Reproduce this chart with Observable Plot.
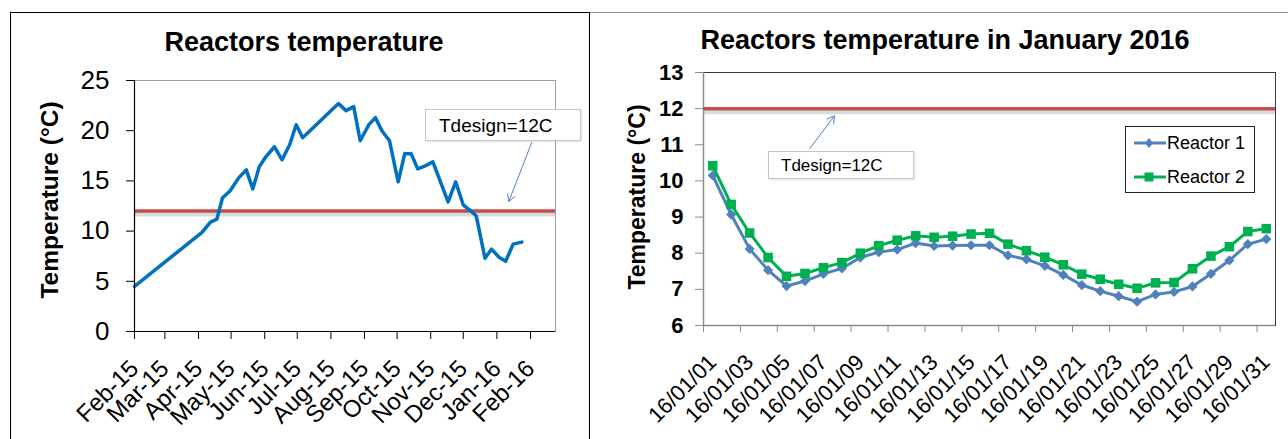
<!DOCTYPE html>
<html><head><meta charset="utf-8">
<script src="https://cdn.jsdelivr.net/npm/d3@7"></script>
<script src="https://cdn.jsdelivr.net/npm/@observablehq/plot@0.6"></script>
<style>
html,body{margin:0;padding:0;background:#fff;}
#wrap{position:relative;width:1288px;height:439px;overflow:hidden;font-family:"Liberation Sans",Arial,sans-serif;color:#000;}
.abs{position:absolute;}
.t{position:absolute;line-height:1;white-space:nowrap;}
.title{font-weight:bold;font-size:27px;transform:translateX(-50%);}
.ylab{font-weight:bold;transform:translate(-50%,-50%) rotate(-90deg);}
.box{position:absolute;background:#fff;border:1px solid #c6c6c6;box-shadow:1px 1px 2px rgba(0,0,0,0.12);display:flex;align-items:center;box-sizing:border-box;line-height:1;white-space:nowrap;}
svg{overflow:visible;}
</style></head><body>
<div id="wrap">
  <div class="abs" style="left:10px;top:12px;width:578px;height:440px;border:1.5px solid #000;border-bottom:none;"></div>
  <div class="abs" style="left:590px;top:12px;width:698px;height:0;border-top:1.5px solid #8c8c8c;"></div>
  <div id="left" class="abs" style="left:0;top:0"></div>
  <div id="right" class="abs" style="left:590px;top:0"></div>
  <div class="t title" style="left:304px;top:29px;">Reactors temperature</div>
  <div class="t title" style="left:945px;top:27px;">Reactors temperature in January 2016</div>
  <div class="t ylab" style="left:50px;top:200px;font-size:24.5px;">Temperature (°C)</div>
  <div class="t ylab" style="left:637px;top:197px;font-size:23px;">Temperature (°C)</div>
  <div class="box" style="left:425px;top:109px;width:156px;height:32px;padding-left:13px;font-size:19px;">Tdesign=12C</div>
  <div class="box" style="left:768px;top:151px;width:146px;height:28px;padding-left:12px;font-size:17px;">Tdesign=12C</div>
  <div id="legend" class="abs" style="left:1125px;top:126px;width:130px;height:67px;border:1px solid #222;box-sizing:border-box;background:#fff;"></div>
</div>
<script>
// ---- Left chart data ----
const leftDates = ["2015-02-01","2015-04-04","2015-04-12","2015-04-18","2015-04-23","2015-04-30","2015-05-08","2015-05-15","2015-05-21","2015-05-27","2015-06-02","2015-06-10","2015-06-17","2015-06-24","2015-06-30","2015-07-06","2015-08-08","2015-08-15","2015-08-22","2015-08-28","2015-09-05","2015-09-11","2015-09-17","2015-09-24","2015-10-02","2015-10-08","2015-10-14","2015-10-20","2015-10-27","2015-11-03","2015-11-17","2015-11-24","2015-12-01","2015-12-07","2015-12-13","2015-12-21","2015-12-27","2016-01-03","2016-01-09","2016-01-16","2016-01-24"];
const leftTemps = [4.5,9.85,10.9,11.2,13.3,14.0,15.3,16.1,14.2,16.4,17.4,18.4,17.1,18.6,20.6,19.3,22.7,22.0,22.4,19.0,20.6,21.3,20.0,19.0,14.9,17.7,17.7,16.2,16.5,16.9,12.9,14.9,12.6,12.1,11.5,7.3,8.2,7.4,7.0,8.7,8.9];
const leftYTicks = [0,5,10,15,20,25];
const leftXStart = "2015-02-01", leftXEnd = "2016-02-24", leftLastTick = "2016-02-02";
const designTemp = 12;
// annotation arrows (data coordinates)
const leftArrow = [{x1:"2016-02-02", y1:18.8, x2:"2016-01-12", y2:12.95}];

// ---- Right chart data ----
const dayLabels = ["16/01/01","16/01/02","16/01/03","16/01/04","16/01/05","16/01/06","16/01/07","16/01/08","16/01/09","16/01/10","16/01/11","16/01/12","16/01/13","16/01/14","16/01/15","16/01/16","16/01/17","16/01/18","16/01/19","16/01/20","16/01/21","16/01/22","16/01/23","16/01/24","16/01/25","16/01/26","16/01/27","16/01/28","16/01/29","16/01/30","16/01/31"];
const reactor1 = [10.15,9.07,8.12,7.53,7.09,7.23,7.43,7.58,7.88,8.03,8.1,8.28,8.2,8.21,8.22,8.22,7.94,7.83,7.65,7.4,7.12,6.95,6.81,6.66,6.86,6.93,7.08,7.43,7.8,8.25,8.39];
const reactor2 = [10.42,9.35,8.56,7.88,7.36,7.44,7.6,7.74,8.0,8.21,8.36,8.48,8.44,8.47,8.53,8.55,8.25,8.07,7.89,7.68,7.42,7.28,7.14,7.03,7.18,7.19,7.57,7.92,8.18,8.6,8.68];
const rightYTicks = [6,7,8,9,10,11,12,13];
const rightArrow = [{x1:6.27, y1:10.9, x2:7.6, y2:11.8}];

const font = "Liberation Sans, Arial, sans-serif";
const red = "#c0504d", blue1 = "#0070c0", blueR = "#4f81bd", greenR = "#00b050";

// ---- Left plot ----
const leftData = leftDates.map((d,i)=>({date:new Date(d), temp:leftTemps[i]}));
const monthTicks = d3.utcMonth.range(new Date(leftXStart), new Date(leftLastTick));
const la = leftArrow.map(a=>({x1:new Date(a.x1), y1:a.y1, x2:new Date(a.x2), y2:a.y2}));
const leftPlot = Plot.plot({
  width:590, height:439,
  marginLeft:134, marginRight:35, marginTop:80, marginBottom:108,
  x:{type:"utc", domain:[new Date(leftXStart), new Date(leftXEnd)]},
  y:{domain:[0,25]},
  style:{fontFamily:font, color:"#000", background:"transparent"},
  marks:[
    Plot.frame({stroke:"#a0a0a0"}),
    Plot.ruleY([designTemp], {dy:3, stroke:"#b0b0b0", strokeWidth:5, strokeOpacity:0.45}),
    Plot.ruleY([designTemp], {stroke:red, strokeWidth:3.5}),
    Plot.line(leftData, {x:"date", y:"temp", stroke:blue1, strokeWidth:3.5, strokeLinejoin:"round"}),
    Plot.ruleX([new Date(leftXStart)], {stroke:"#000", strokeWidth:1.2}),
    Plot.ruleY([0], {stroke:"#000", strokeWidth:1.2}),
    Plot.axisY({ticks:leftYTicks, tickSize:8, tickPadding:17, fontSize:26, label:null, stroke:"#000"}),
    Plot.axisX({ticks:monthTicks, tickFormat:d3.utcFormat("%b-%y"), tickSize:8, tickPadding:25, tickRotate:-45, fontSize:24, label:null, stroke:"#000"}),
    Plot.arrow(la, {x1:"x1", y1:"y1", x2:"x2", y2:"y2", stroke:blueR, strokeWidth:1, headLength:12, bend:0})
  ]
});
document.getElementById("left").appendChild(leftPlot);

// ---- Right plot ----
const r1 = reactor1.map((v,i)=>({day:i+1, v}));
const r2 = reactor2.map((v,i)=>({day:i+1, v}));
const boundaryTicks = dayLabels.map((d,i)=>i+0.5).filter((d,i)=>i%2===0);
const labelTicks = dayLabels.map((d,i)=>i+1).filter((d,i)=>i%2===0);
const rightPlot = Plot.plot({
  width:698, height:439,
  marginLeft:113, marginRight:13, marginTop:72, marginBottom:114,
  x:{domain:[0.5, dayLabels.length+0.5]},
  y:{domain:[6,13]},
  style:{fontFamily:font, color:"#000", background:"transparent"},
  marks:[
    Plot.frame({stroke:"#3a3a3a"}),
    Plot.ruleX([0.5], {stroke:"#8c8c8c", strokeWidth:1.5}),
    Plot.ruleY([6], {stroke:"#8c8c8c", strokeWidth:1.5}),
    Plot.ruleY([designTemp], {dy:3, stroke:"#b0b0b0", strokeWidth:5, strokeOpacity:0.45}),
    Plot.ruleY([designTemp], {stroke:red, strokeWidth:3.5}),
    Plot.line(r1, {x:"day", y:"v", stroke:blueR, strokeWidth:3}),
    Plot.dot(r1, {x:"day", y:"v", symbol:"diamond2", r:4.6, fill:blueR, stroke:null}),
    Plot.line(r2, {x:"day", y:"v", stroke:greenR, strokeWidth:3}),
    Plot.dot(r2, {x:"day", y:"v", symbol:"square", r:5.4, fill:greenR, stroke:null}),
    Plot.axisY({ticks:rightYTicks, tickFormat:d=>String(d), tickSize:8, tickPadding:12, fontSize:22, fontWeight:"bold", label:null, stroke:"#8c8c8c"}),
    Plot.axisX({ticks:boundaryTicks, tickFormat:()=>"", tickSize:7, label:null, stroke:"#8c8c8c"}),
    Plot.axisX({ticks:labelTicks, tickFormat:d=>dayLabels[d-1], tickSize:0, tickPadding:33, tickRotate:-45, fontSize:22, label:null}),
    Plot.arrow(rightArrow, {x1:"x1", y1:"y1", x2:"x2", y2:"y2", stroke:blueR, strokeWidth:1, headLength:12, bend:0})
  ]
});
document.getElementById("right").appendChild(rightPlot);

// ---- Legend ----
const legendItems = [
  {name:"Reactor 1", color:blueR, symbol:"diamond"},
  {name:"Reactor 2", color:greenR, symbol:"square"}
];
const lg = document.getElementById("legend");
legendItems.forEach((it,i)=>{
  const row = document.createElement("div");
  row.style.cssText = `position:absolute;left:7px;top:${i===0?4:38}px;height:24px;display:flex;align-items:center;font-size:18px;line-height:1;white-space:nowrap;`;
  const mk = it.symbol==="diamond"
    ? `<path d="M16,7 L20,12 L16,17 L12,12 Z" fill="${it.color}"/>`
    : `<rect x="11.5" y="7.5" width="9" height="9" fill="${it.color}"/>`;
  row.innerHTML = `<svg width="34" height="24" style="overflow:visible"><line x1="1" y1="12" x2="33" y2="12" stroke="${it.color}" stroke-width="3"/>${mk}</svg><span>${it.name}</span>`;
  lg.appendChild(row);
});
</script>
</body></html>
